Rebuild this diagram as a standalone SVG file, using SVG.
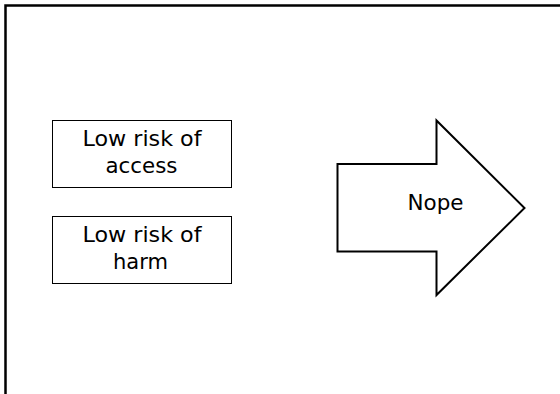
<svg xmlns="http://www.w3.org/2000/svg" width="560" height="394" viewBox="0 0 560 394">
<style>
.box{fill:#fff;stroke:#000;stroke-width:1}
.arrow{fill:#fff;stroke:#000;stroke-width:2}
text{font-family:"DejaVu Sans","Noto Sans",sans-serif;font-size:21px;fill:#000;text-anchor:middle}
</style>
<rect width="560" height="394" fill="#fff"/>
<path d="M5.5 394 V5.5 H560" fill="none" stroke="#000" stroke-width="2.5"/>
<g id="node-access">
<rect class="box" x="52.5" y="120.5" width="179" height="67"/>
<text x="142" y="146" textLength="119" lengthAdjust="spacingAndGlyphs">Low risk of</text>
<text x="141.5" y="173" textLength="72" lengthAdjust="spacingAndGlyphs">access</text>
</g>
<g id="node-harm">
<rect class="box" x="52.5" y="216.5" width="179" height="67"/>
<text x="142" y="242" textLength="119" lengthAdjust="spacingAndGlyphs">Low risk of</text>
<text x="140.5" y="269" textLength="55" lengthAdjust="spacingAndGlyphs">harm</text>
</g>
<g id="node-nope">
<path class="arrow" d="M337.5 164 H436.5 V120.5 L524.5 208 L436.5 295 V251.5 H337.5 Z"/>
<text x="435.5" y="210" textLength="56" lengthAdjust="spacingAndGlyphs">Nope</text>
</g>
<g id="connectors"></g>
</svg>
